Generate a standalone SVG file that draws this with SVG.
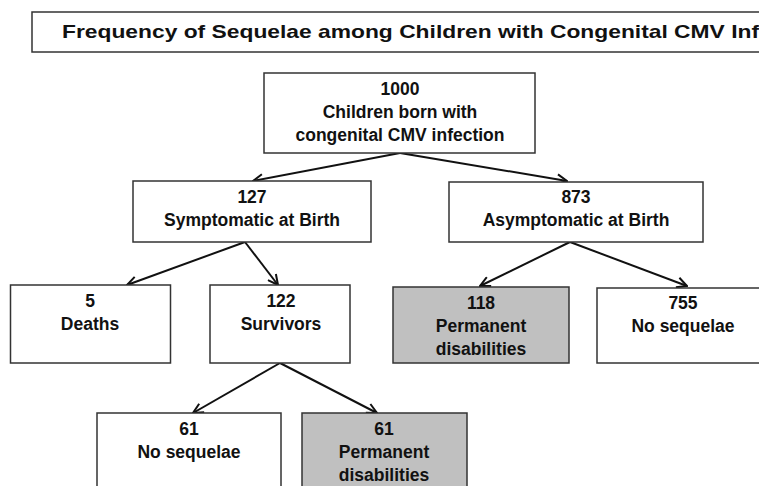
<svg xmlns="http://www.w3.org/2000/svg" width="759" height="486" viewBox="0 0 759 486">
<style>
.box{fill:#fff;stroke:#333;stroke-width:1.5}
.gray{fill:#c0c0c0}
text{font-family:"Liberation Sans",Arial,sans-serif;font-weight:bold;font-size:17.5px;fill:#111;text-anchor:middle}
.title{font-size:19px;text-anchor:start}
.conn line{stroke:#111;stroke-width:2;marker-end:url(#arr)}
</style>
<defs>
<marker id="arr" viewBox="0 0 12 12" refX="11" refY="6" markerWidth="12" markerHeight="12" markerUnits="userSpaceOnUse" orient="auto">
<path d="M1,1 L11,6 L1,11" fill="none" stroke="#111" stroke-width="2"/>
</marker>
</defs>
<rect width="759" height="486" fill="#fff"/>
<g id="title">
<rect class="box" x="32" y="12" width="740" height="40"/>
<text class="title" x="62" y="38" textLength="697" lengthAdjust="spacingAndGlyphs">Frequency of Sequelae among Children with Congenital CMV Inf</text>
</g>
<g class="conn" id="connectors">
<line x1="400" y1="153" x2="253" y2="181"/>
<line x1="400" y1="153" x2="567" y2="181"/>
<line x1="245" y1="242" x2="127" y2="285"/>
<line x1="245" y1="242" x2="278" y2="285"/>
<line x1="570" y1="242" x2="480" y2="286"/>
<line x1="570" y1="242" x2="687" y2="286"/>
<line x1="280" y1="363" x2="193" y2="413"/>
<line x1="280" y1="363" x2="377" y2="413"/>
</g>
<g id="root">
<rect class="box" x="264" y="73" width="271" height="80"/>
<text x="400" y="95">1000</text>
<text x="400" y="118">Children born with</text>
<text x="400" y="141">congenital CMV infection</text>
</g>
<g id="symptomatic">
<rect class="box" x="133" y="181" width="238" height="61"/>
<text x="252" y="203">127</text>
<text x="252" y="226">Symptomatic at Birth</text>
</g>
<g id="asymptomatic">
<rect class="box" x="449" y="182" width="254" height="60"/>
<text x="576" y="203">873</text>
<text x="576" y="226">Asymptomatic at Birth</text>
</g>
<g id="deaths">
<rect class="box" x="10.5" y="285" width="160" height="78"/>
<text x="90" y="307">5</text>
<text x="90" y="330">Deaths</text>
</g>
<g id="survivors">
<rect class="box" x="210" y="285" width="140" height="78"/>
<text x="281" y="307">122</text>
<text x="281" y="330">Survivors</text>
</g>
<g id="perm118">
<rect class="box gray" x="393" y="287" width="176" height="76"/>
<text x="481" y="309">118</text>
<text x="481" y="332">Permanent</text>
<text x="481" y="355">disabilities</text>
</g>
<g id="nosequelae755">
<rect class="box" x="597" y="288" width="170" height="75"/>
<text x="683" y="309">755</text>
<text x="683" y="332">No sequelae</text>
</g>
<g id="nosequelae61">
<rect class="box" x="97" y="413" width="184" height="90"/>
<text x="189" y="435">61</text>
<text x="189" y="458">No sequelae</text>
</g>
<g id="perm61">
<rect class="box gray" x="302" y="413" width="165" height="90"/>
<text x="384" y="435">61</text>
<text x="384" y="458">Permanent</text>
<text x="384" y="481">disabilities</text>
</g>
</svg>
